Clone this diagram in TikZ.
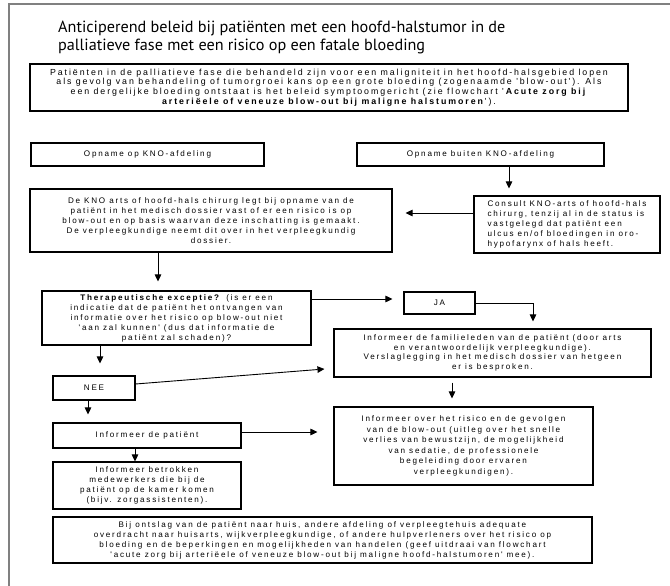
\documentclass[tikz,border=0pt]{standalone}
\usepackage{fontspec}
\usepackage{tikz}
\usetikzlibrary{arrows.meta, calc}
\newfontfamily\boxfont[LetterSpace=22]{Liberation Sans}
\newfontfamily\titlefont{PT Sans}
\definecolor{framegray}{RGB}{128, 128, 128}

\begin{document}
\begin{tikzpicture}[x=1pt, y=-1pt, >={Triangle[length=7pt, width=6.5pt]},
    box/.style={draw, line width=1.1pt, inner sep=0pt, align=center,
      font=\boxfont\fontsize{8.1}{10}\selectfont},
    arr/.style={->, line width=0.9pt}]
  \useasboundingbox (0,0) rectangle (670,586);

  % frame
  \draw[framegray, line width=1.5pt] (670,4) -- (9,4) -- (9,586);

  \node[anchor=north west, align=left, inner sep=0pt,
        font=\titlefont\fontsize{16.2}{18}\selectfont] (title) at (58,21)
    {Anticiperend beleid bij patiënten met een hoofd-halstumor in de\\
     palliatieve fase met een risico op een fatale bloeding};

  \node[box, minimum width=598pt, minimum height=47pt,
        font=\boxfont\fontsize{8.8}{9.6}\selectfont] (intro) at (329,87.5)
    {Patiënten in de palliatieve fase die behandeld zijn voor een maligniteit in het hoofd-halsgebied lopen\\
     als gevolg van behandeling of tumorgroei kans op een grote bloeding (zogenaamde 'blow-out'). Als\\
     een dergelijke bloeding ontstaat is het beleid symptoomgericht (zie flowchart '\textbf{Acute zorg bij}\\
     \textbf{arteriëele of veneuze blow-out bij maligne halstumoren}').};

  \node[box, minimum width=233pt, minimum height=23pt] (kno) at (147.5,154.5)
    {Opname op KNO-afdeling};
  \node[box, minimum width=247pt, minimum height=23pt] (buiten) at (480.5,154.5)
    {Opname buiten KNO-afdeling};

  \node[box, minimum width=362pt, minimum height=63pt] (knoarts) at (211,220.5)
    {De KNO arts of hoofd-hals chirurg legt bij opname van de\\
     patiënt in het medisch dossier vast of er een risico is op\\
     blow-out en op basis waarvan deze inschatting is gemaakt.\\
     De verpleegkundige neemt dit over in het verpleegkundig\\
     dossier.};
  \node[box, align=left, minimum width=186pt, minimum height=57pt] (consult) at (567,224.5)
    {Consult KNO-arts of hoofd-hals\\
     chirurg, tenzij al in de status is\\
     vastgelegd dat patiënt een\\
     ulcus en/of bloedingen in oro-\\
     hypofarynx of hals heeft.};

  \node[box, minimum width=269pt, minimum height=54pt] (thera) at (176.5,318)
    {\textbf{Therapeutische exceptie?} (is er een\\
     indicatie dat de patiënt het ontvangen van\\
     informatie over het risico op blow-out niet\\
     'aan zal kunnen' (dus dat informatie de\\
     patiënt zal schaden)?};
  \node[box, minimum width=71pt, minimum height=22pt] (ja) at (439.5,303) {JA};

  \node[box, minimum width=317pt, minimum height=48pt,
        font=\boxfont\fontsize{8.1}{9.5}\selectfont] (familie) at (492.5,353)
    {Informeer de familieleden van de patiënt (door arts\\
     en verantwoordelijk verpleegkundige).\\
     Verslaglegging in het medisch dossier van hetgeen\\
     er is besproken.};
  \node[box, minimum width=82pt, minimum height=24pt] (nee) at (94,388) {NEE};

  \node[box, minimum width=188pt, minimum height=25pt] (patient) at (147,435.5)
    {Informeer de patiënt};
  \node[box, minimum width=259pt, minimum height=78pt,
        font=\boxfont\fontsize{8.1}{10.6}\selectfont] (risico) at (463.5,446)
    {Informeer over het risico en de gevolgen\\
     van de blow-out (uitleg over het snelle\\
     verlies van bewustzijn, de mogelijkheid\\
     van sedatie, de professionele\\
     begeleiding door ervaren\\
     verpleegkundigen).};
  \node[box, minimum width=188pt, minimum height=47pt] (betrokken) at (147,485.5)
    {Informeer betrokken\\
     medewerkers die bij de\\
     patiënt op de kamer komen\\
     (bijv. zorgassistenten).};

  \node[box, minimum width=539pt, minimum height=46pt] (ontslag) at (322.5,540)
    {Bij ontslag van de patiënt naar huis, andere afdeling of verpleegtehuis adequate\\
     overdracht naar huisarts, wijkverpleegkundige, of andere hulpverleners over het risico op\\
     bloeding en de beperkingen en mogelijkheden van handelen (geef uitdraai van flowchart\\
     'acute zorg bij arteriëele of veneuze blow-out bij maligne hoofd-halstumoren' mee).};

  \draw[arr, shorten >=7pt] ([xshift=28.5pt]buiten.south) -- ([xshift=28.5pt]buiten.south |- consult.north);
  \draw[arr, shorten >=13pt] ([yshift=11.5pt]consult.west) -- ([yshift=11.5pt]consult.west -| knoarts.east);
  \draw[arr, shorten >=9pt] ([xshift=-53pt]knoarts.south) -- ([xshift=-53pt]knoarts.south |- thera.north);
  \draw[arr, shorten >=11pt] ([yshift=19pt]thera.east) -- ([yshift=19pt]thera.east -| ja.west);
  \draw[arr, shorten >=7pt] (ja.east) -| ([xshift=40.5pt]familie.north);
  \draw[arr, shorten >=12pt] ([xshift=-76.5pt]thera.south) -- ([xshift=-76.5pt]thera.south |- nee.north);
  \draw[arr] ([yshift=4pt]nee.east) -- ([xshift=-9pt, yshift=-16pt]familie.west);
  \draw[arr, shorten >=8pt] ([xshift=-6pt]nee.south) -- ([xshift=-6pt]nee.south |- patient.north);
  \draw[arr, shorten >=16pt] ([yshift=3.5pt]patient.east) -- ([yshift=3.5pt]patient.east -| risico.west);
  \draw[arr] ([xshift=-12pt]patient.south) -- ([xshift=-12pt]patient.south |- betrokken.north);
  \draw[arr, shorten <=5pt, shorten >=8pt] ([xshift=-40.5pt]familie.south) -- ([xshift=-40.5pt]familie.south |- risico.north);
\end{tikzpicture}
\end{document}
